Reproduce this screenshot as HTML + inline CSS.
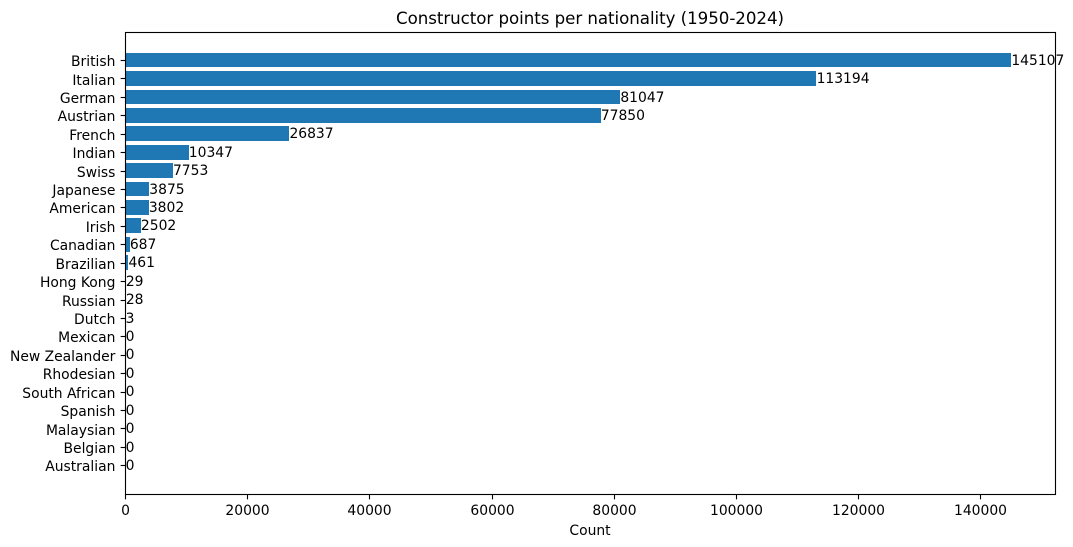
<!DOCTYPE html>
<html lang="en">
<head>
<meta charset="utf-8">
<title>Constructor points per nationality (1950-2024)</title>
<style>
html,body{margin:0;padding:0;background:#fff;width:1073px;height:547px;overflow:hidden}
svg{display:block}
text{font-family:"DejaVu Sans",sans-serif;fill:#000}
</style>
</head>
<body>
<svg id="chart" xmlns="http://www.w3.org/2000/svg" width="1073" height="547" viewBox="0 0 1073 547">
  <rect x="125.5" y="32.5" width="930" height="462" fill="#fff"/>
  <g id="bars"></g>
  <g id="yticks"></g>
  <g id="xticks"></g>
  <rect x="125.5" y="32.5" width="930" height="462" fill="none" stroke="#000" stroke-width="1.11"/>
  <g id="values"></g>
  <text x="590" y="24" font-size="16.67" text-anchor="middle" textLength="388" lengthAdjust="spacing">Constructor points per nationality (1950-2024)</text>
  <text x="590" y="535" font-size="13.89" text-anchor="middle">Count</text>
</svg>
<script>
const nationalities = ["British","Italian","German","Austrian","French","Indian","Swiss","Japanese","American","Irish","Canadian","Brazilian","Hong Kong","Russian","Dutch","Mexican","New Zealander","Rhodesian","South African","Spanish","Malaysian","Belgian","Australian"];
const points = [145107,113194,81047,77850,26837,10347,7753,3875,3802,2502,687,461,29,28,3,0,0,0,0,0,0,0,0];
const xTickValues = [0,20000,40000,60000,80000,100000,120000,140000];

const NS = 'http://www.w3.org/2000/svg';
const plotLeft = 125.5, plotTop = 31.7, plotWidth = 930, plotHeight = 462;
const fontSize = 13.89;
const xMax = Math.max(...points) * 1.05;
const barExtent = nationalities.length - 1 + 0.8;
const yMargin = barExtent * 0.05;

function xScale(v) {
  return plotLeft + (v / xMax) * plotWidth;
}
function yScale(i) {
  return plotTop + ((i + 0.4 + yMargin) / (barExtent + 2 * yMargin)) * plotHeight;
}
function make(tag, attrs, parent) {
  const el = document.createElementNS(NS, tag);
  for (const k in attrs) el.setAttribute(k, attrs[k]);
  parent.appendChild(el);
  return el;
}

const barsG = document.getElementById('bars');
const yG = document.getElementById('yticks');
const xG = document.getElementById('xticks');
const valuesG = document.getElementById('values');

nationalities.forEach(function (name, i) {
  const cy = yScale(i);
  const unit = yScale(1) - yScale(0);
  const top = Math.round(cy - 0.4 * unit);
  const bottom = Math.round(cy + 0.4 * unit);

  const bar = make('rect', {x: 125.5, y: top, width: Math.max(0, Math.round(xScale(points[i])) - 125.5), height: bottom - top, fill: '#1f77b4'}, barsG);
  
  

  const tickY = Math.round(cy) + 0.5;
  const tick = make('line', {x1: 125.5 - 4.86, x2: 125.5, y1: tickY, y2: tickY, stroke: '#000', 'stroke-width': 1.11}, yG);
  
  

  const label = make('text', {x: 115.4, y: Math.round(cy + 6.05), 'font-size': fontSize, 'text-anchor': 'end'}, yG);
  label.textContent = name;
  
  

  const val = make('text', {x: xScale(points[i]) + 0.15, y: Math.round(cy + 4.6), 'font-size': fontSize}, valuesG);
  val.textContent = String(points[i]);
  
  
});

xTickValues.forEach(function (v) {
  const x = Math.round(xScale(v) - 0.2) + 0.5;
  const tick = make('line', {x1: x, x2: x, y1: 494.5, y2: 494.5 + 4.86, stroke: '#000', 'stroke-width': 1.11}, xG);
  
  

  const label = make('text', {x: x, y: 515, 'font-size': fontSize, 'text-anchor': 'middle'}, xG);
  label.textContent = String(v);
  
  
});
</script>
</body>
</html>
